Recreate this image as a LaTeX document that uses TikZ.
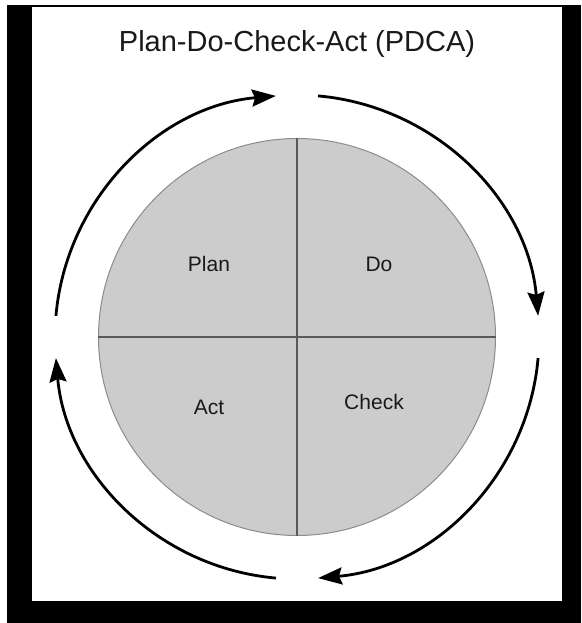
\documentclass[tikz,border=0pt]{standalone}
\usepackage{fontspec}
\setmainfont{Liberation Sans}
\usepackage{tikz}
\usetikzlibrary{calc,arrows.meta}
\definecolor{wheelgray}{RGB}{204,204,204}
\tikzset{
  quad/.style={font=\fontsize{21}{25}\selectfont, text=black!90, anchor=base},
  cycarrow/.style={line width=2.8pt, -{Stealth[length=24pt,width=17pt,inset=3pt]}}
}

\begin{document}
\begin{tikzpicture}[x=1pt, y=1pt]
        \useasboundingbox (0,0) rectangle (581,623);
        \fill [white] (0,0) rectangle (581,623);
        \fill [black] (7,0) rectangle (581,618);
        \fill [white] (32,22) rectangle (562,616);
        \node [font=\fontsize{29}{33}\selectfont, text=black!90, anchor=base] (title) at (297,571) {Plan-Do-Check-Act (PDCA)};
        \coordinate (c) at (297,286);
        \node [circle, minimum size=397pt, inner sep=0pt, fill=wheelgray, draw=black!45, line width=1pt] (wheel) at (c) {};
        \draw [black!65, line width=1.3pt] (wheel.north) -- (wheel.south);
        \draw [black!65, line width=1.3pt] (wheel.west) -- (wheel.east);
        \node [quad] (plan) at (209,351) {Plan};
        \node [quad] (do) at (379,351) {Do};
        \node [quad] (act) at (209,208) {Act};
        \node [quad] (check) at (374,213) {Check};
        \draw [cycarrow] ($(c)+(175:242)$) arc [start angle=175, end angle=95, radius=242];
        \draw [cycarrow] ($(c)+(85:242)$) arc [start angle=85, end angle=5, radius=242];
        \draw [cycarrow] ($(c)+(-5:242)$) arc [start angle=-5, end angle=-85, radius=242];
        \draw [cycarrow] ($(c)+(-95:242)$) arc [start angle=-95, end angle=-175, radius=242];
\end{tikzpicture}
\end{document}
